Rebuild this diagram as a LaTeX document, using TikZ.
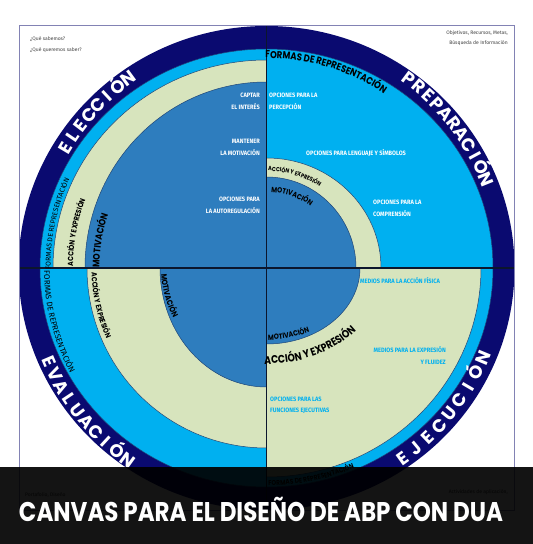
\documentclass[tikz,border=0pt]{standalone}
\usepackage{fontspec}
\setmainfont{Fira Sans}
\newfontfamily\popf{Poppins}
\newfontfamily\popc{Poppins}[FakeStretch=0.85]
\newfontfamily\popt{Poppins}[FakeStretch=0.85]
\newfontfamily\firac{Fira Sans}[FakeStretch=0.9]
\newfontfamily\firaf{Fira Sans}
\usetikzlibrary{decorations.text}
\definecolor{navy}{RGB}{10,10,112}
\definecolor{cyanb}{RGB}{0,176,240}
\definecolor{greenb}{RGB}{215,228,189}
\definecolor{blueb}{RGB}{46,125,190}
\definecolor{edgec}{RGB}{31,70,120}
\definecolor{framec}{RGB}{130,130,180}
\definecolor{crossc}{RGB}{12,22,45}
\newcommand\qslice[5]{\filldraw[fill=#1,draw=edgec,line width=0.5pt] (C) -- ([shift={(#2:#4 and #5)}]C) arc[start angle=#2,end angle=#3,x radius=#4,y radius=#5] -- cycle;}
\begin{document}
\begin{tikzpicture}[x=1pt,y=1pt,
  biglab/.style={text=white,font=\popf\bfseries\fontsize{18}{18}\selectfont,inner sep=0pt,anchor=base},
  wtxt/.style={text=white,font=\firac\bfseries\fontsize{6.3}{6.3}\selectfont,inner sep=0pt},
  ctxt/.style={text=cyanb,font=\firac\bfseries\fontsize{6.3}{6.3}\selectfont,inner sep=0pt},
  corner/.style={text=black!75,font=\firaf\fontsize{5}{5}\selectfont,inner sep=0pt}]
\useasboundingbox (0,0) rectangle (533,544);
\fill[white] (0,0) rectangle (533,544);
\coordinate (C) at (266.5,276);
\coordinate (FT) at (266.5,518.5);
\coordinate (FB) at (266.5,34);
\coordinate (FL) at (19,276);
\coordinate (FR) at (514,276);
% regions
\begin{scope}
\clip (19,34) rectangle (514,518.5);
\fill[navy] (C) ellipse[x radius=248,y radius=242];
% top-left
\qslice{cyanb}{90}{180}{226.5}{219}
\qslice{greenb}{90}{180}{213.5}{208}
\qslice{blueb}{90}{180}{181.5}{186}
% top-right
\qslice{cyanb}{0}{90}{226.5}{219}
\qslice{greenb}{0}{90}{114.5}{110}
\qslice{blueb}{0}{90}{89.5}{91}
% bottom-left
\qslice{cyanb}{180}{270}{226.5}{219}
\qslice{greenb}{180}{270}{179.5}{180}
\qslice{blueb}{180}{270}{106.5}{119}
% bottom-right
\qslice{cyanb}{270}{360}{226.5}{219}
\qslice{greenb}{270}{360}{214.5}{209}
\qslice{blueb}{270}{360}{93.5}{76}
\draw[crossc,line width=1.6pt] (FT) -- (FB);
\draw[crossc,line width=1.6pt] (FL) -- (FR);
\end{scope}
\draw[framec,line width=0.8pt] (19,34) rectangle (514,518.5);

% big ring labels
\foreach \ch [count=\i from 0] in {E,L,E,C,C,I,Ó,N}{
  \pgfmathsetmacro\ang{149.2-\i*3.29}
  \node[biglab,rotate=\ang-90] (elec\i) at ([shift={(\ang:228)}]C) {\ch};}
\foreach \ch [count=\i from 0] in {P,R,E,P,A,R,A,C,I,Ó,N}{
  \pgfmathsetmacro\ang{53.1-\i*3.1}
  \node[biglab,rotate=\ang-90] (prep\i) at ([shift={(\ang:230.5)}]C) {\ch};}
\foreach \ch [count=\i from 0] in {E,V,A,L,U,A,C,I,Ó,N}{
  \pgfmathsetmacro\ang{203.2+\i*3.44}
  \node[biglab,rotate=\ang+90] (eval\i) at ([shift={(\ang:243)}]C) {\ch};}
\foreach \ch [count=\i from 0] in {E,J,E,C,U,C,I,Ó,N}{
  \pgfmathsetmacro\ang{-54.4+\i*3.99}
  \node[biglab,rotate=\ang+90] (ejec\i) at ([shift={(\ang:240.5)}]C) {\ch};}

% arc texts top-left
\path[decorate,decoration={text along path,text align=left,
  text={|\firaf\fontsize{7}{7}\selectfont|FORMAS DE REPRESENTACIÓN}}]
  ([shift={(180.5:216)}]C) arc[start angle=180.5,end angle=130,radius=216];
\path[decorate,decoration={text along path,text align=left,
  text={|\popc\bfseries\fontsize{7.5}{7.5}\selectfont|ACCIÓN Y EXPRESIÓN}}]
  ([shift={(179.5:193.5)}]C) arc[start angle=179.5,end angle=130,radius=193.5];
\path[decorate,decoration={text along path,text align=left,
  text={|\popc\bfseries\fontsize{9.5}{9.5}\selectfont|MOTIVACIÓN}}]
  ([shift={(179.8:167)}]C) arc[start angle=179.8,end angle=140,radius=167];
% arc texts top-right
\path[decorate,decoration={text along path,text align=left,
  text={|\popc\bfseries\fontsize{10}{10}\selectfont|FORMAS DE REPRESENTACIÓN}}]
  ([shift={(90.3:210)}]C) arc[start angle=90.3,end angle=30,radius=210];
\path[decorate,decoration={text along path,text align=left,
  text={|\popc\bfseries\fontsize{6}{6}\selectfont|ACCIÓN Y EXPRESIÓN}}]
  ([shift={(89:97)}]C) arc[start angle=89,end angle=20,radius=97];
\path[decorate,decoration={text along path,text align=left,
  text={|\popc\bfseries\fontsize{7.5}{7.5}\selectfont|MOTIVACIÓN}}]
  ([shift={(86.5:76)}]C) arc[start angle=86.5,end angle=20,radius=76];
% arc texts bottom-left
\path[decorate,decoration={text along path,text align=left,
  text={|\firaf\fontsize{8}{8}\selectfont|FORMAS DE REPRESENTACIÓN}}]
  ([shift={(180.7:222.5)}]C) arc[start angle=180.7,end angle=230,radius=222.5];
\path[decorate,decoration={text along path,text align=left,
  text={|\popc\bfseries\fontsize{7.5}{7.5}\selectfont|ACCIÓN Y EXPRESIÓN}}]
  ([shift={(181.5:175)}]C) arc[start angle=181.5,end angle=235,radius=175];
\path[decorate,decoration={text along path,text align=left,
  text={|\popc\bfseries\fontsize{8}{8}\selectfont|MOTIVACIÓN}}]
  ([shift={(183.5:105.5)}]C) arc[start angle=183.5,end angle=245,radius=105.5];
% arc texts bottom-right
\path[decorate,decoration={text along path,text align=left,
  text={|\popc\bfseries\fontsize{11}{11}\selectfont|ACCIÓN Y EXPRESIÓN}}]
  ([shift={(-91:118 and 96)}]C) arc[start angle=-91,end angle=5,x radius=118,y radius=96];
\path[decorate,decoration={text along path,text align=left,
  text={|\popc\bfseries\fontsize{7.5}{7.5}\selectfont|MOTIVACIÓN}}]
  ([shift={(-89:95 and 72)}]C) arc[start angle=-89,end angle=0,x radius=95,y radius=72];
\path[decorate,decoration={text along path,text align=left,
  text={|\popc\bfseries\fontsize{7}{7}\selectfont|FORMAS DE REPRESENTACIÓN}}]
  ([shift={(-89.5:224 and 217.5)}]C) arc[start angle=-89.5,end angle=-20,x radius=224,y radius=217.5];

% white texts top-left
\node[wtxt,anchor=base east] (tl1) at (260,446.8) {CAPTAR};
\node[wtxt,anchor=base east] (tl2) at (260,434.8) {EL INTERÉS};
\node[wtxt,anchor=base east] (tl3) at (260,400.8) {MANTENER};
\node[wtxt,anchor=base east] (tl4) at (260,388.8) {LA MOTIVACIÓN};
\node[wtxt,anchor=base east] (tl5) at (260,342.8) {OPCIONES PARA};
\node[wtxt,anchor=base east] (tl6) at (260,330.8) {LA AUTOREGULACIÓN};
% white texts top-right
\node[wtxt,anchor=base west] (tr1) at (269,446.8) {OPCIONES PARA LA};
\node[wtxt,anchor=base west] (tr2) at (269,434.8) {PERCEPCIÓN};
\node[wtxt,anchor=base west] (tr3) at (306,388.8) {OPCIONES PARA LENGUAJE Y SÍMBOLOS};
\node[wtxt,anchor=base west] (tr4) at (373,339.8) {OPCIONES PARA LA};
\node[wtxt,anchor=base west] (tr5) at (373,327.8) {COMPRENSIÓN};
% cyan texts bottom-right
\node[ctxt,anchor=base west] (br1) at (360,260.8) {MEDIOS PARA LA ACCIÓN FÍSICA};
\node[ctxt,anchor=base east] (br2) at (446,191.8) {MEDIOS PARA LA EXPRESIÓN};
\node[ctxt,anchor=base east] (br3) at (446,179.8) {Y FLUIDEZ};
\node[ctxt,anchor=base west] (br4) at (270,142.8) {OPCIONES PARA LAS};
\node[ctxt,anchor=base west] (br5) at (270,131.8) {FUNCIONES EJECUTIVAS};

% corner texts
\node[corner,anchor=base west] (c1) at (30,503) {¿Qué sabemos?};
\node[corner,anchor=base west] (c2) at (30,492) {¿Qué queremos saber?};
\node[corner,anchor=base east] (c3) at (508,509) {Objetivos, Recursos, Metas,};
\node[corner,anchor=base east] (c4) at (508,499) {Búsqueda de Información};
\node[corner,anchor=base west] (c5) at (25,47) {Portafolio, Diseño};
\node[corner,anchor=base east] (c6) at (508,50) {Actividades de aplicación,};

% overlay band and title
\fill[black,opacity=0.92] (0,0) rectangle (533,76.5);
\node[text=white,inner sep=0pt,anchor=base] (title) at (261,23)
  {\resizebox{484pt}{!}{\popt\bfseries\fontsize{25}{25}\selectfont CANVAS PARA EL DISEÑO DE ABP CON DUA}};
\end{tikzpicture}
\end{document}
